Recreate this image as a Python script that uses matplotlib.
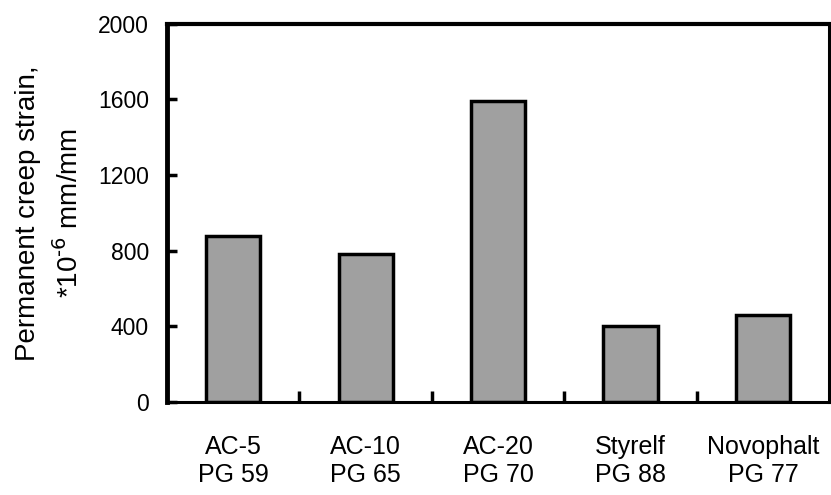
import matplotlib.pyplot as plt

plt.rcParams["font.family"] = ["Liberation Sans", "DejaVu Sans"]

binders = ["AC-5\nPG 59", "AC-10\nPG 65", "AC-20\nPG 70", "Styrelf\nPG 88", "Novophalt\nPG 77"]
creep_strain = [880, 780, 1590, 400, 460]
yticks = [0, 400, 800, 1200, 1600, 2000]

fig = plt.figure(figsize=(8.31, 4.95), dpi=100)
ax = fig.add_axes([0.201, 0.188, 0.797, 0.764])

x = range(len(binders))
ax.bar(x, creep_strain, width=0.41, color="#a0a0a0", edgecolor="black", linewidth=2.5)

ax.set_xlim(-0.5, len(binders) - 0.5)
ax.set_ylim(0, 2000)
ax.set_yticks(yticks)

# category labels sit under the bars, ticks mark the gaps between them
ax.set_xticks(list(x))
ax.set_xticklabels(binders, fontsize=18, linespacing=1.2)
ax.tick_params(axis="x", length=0, pad=24)
ax.set_xticks([i + 0.5 for i in range(len(binders) - 1)], minor=True)
ax.tick_params(axis="x", which="minor", direction="in", length=8, width=2.5)
ax.tick_params(axis="y", direction="in", length=7, width=2.5, labelsize=16.5, pad=13)

ax.spines["left"].set_linewidth(3.5)
ax.spines["top"].set_linewidth(3)
ax.spines["right"].set_linewidth(2.2)
ax.spines["bottom"].set_linewidth(2.2)

# two-line y label, placed by hand for the wide line gap
ymid = 0.5697
fig.text(35 / 831, ymid, "Permanent creep strain,", fontsize=20, rotation=90,
         rotation_mode="anchor", ha="center", va="baseline")
fig.text(78 / 831, ymid, r"*10$^{\mathrm{\text{-}6}}$ mm/mm", fontsize=20, rotation=90,
         rotation_mode="anchor", ha="center", va="baseline")

fig.savefig("out.png", dpi=100)
